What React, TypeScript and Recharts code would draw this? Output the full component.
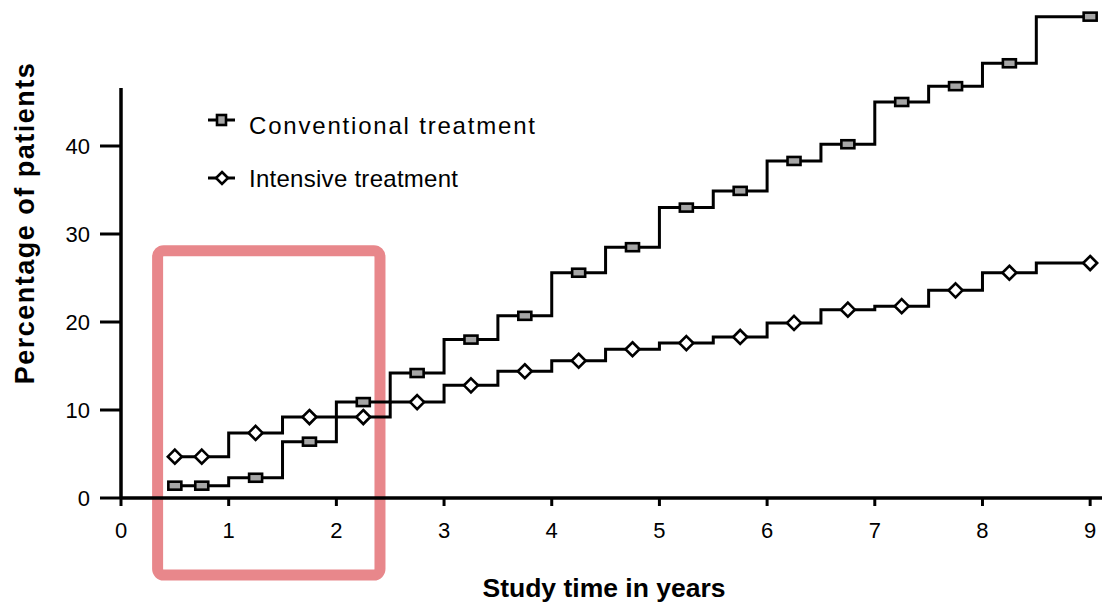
import React from "react";
import {
  ComposedChart,
  Line,
  XAxis,
  YAxis,
  ReferenceArea,
  ReferenceLine,
} from "recharts";

// start of each half-year step
const stepStarts = [0.5, 1, 1.5, 2, 2.5, 3, 3.5, 4, 4.5, 5, 5.5, 6, 6.5, 7, 7.5, 8, 8.5];
const conventional = [1.4, 2.3, 6.4, 10.9, 14.2, 18.0, 20.7, 25.6, 28.5, 33.0, 34.9, 38.3, 40.2, 45.0, 46.8, 49.4, 54.7];
const intensive = [4.7, 7.4, 9.2, 9.2, 10.9, 12.8, 14.4, 15.6, 16.9, 17.6, 18.3, 19.9, 21.4, 21.8, 23.6, 25.6, 26.7];
const markerX = [0.5, 0.75, 1.25, 1.75, 2.25, 2.75, 3.25, 3.75, 4.25, 4.75, 5.25, 5.75, 6.25, 6.75, 7.25, 7.75, 8.25, 9];
const xTicks = [0, 1, 2, 3, 4, 5, 6, 7, 8, 9];
const yTicks = [0, 10, 20, 30, 40];
const endX = 9;

const FONT = "'Liberation Sans', Arial, sans-serif";

const xs = Array.from(new Set([...stepStarts, ...markerX, endX])).sort((a, b) => a - b);
const rows = xs.map((x) => {
  let i = 0;
  for (let k = 0; k < stepStarts.length; k++) if (stepStarts[k] <= x) i = k;
  return { x, conv: conventional[i], int: intensive[i] };
});

function SquareDot(props: any) {
  const { cx, cy, payload, index } = props;
  if (!markerX.includes(payload.x)) return <g key={`s${index}`} />;
  return (
    <rect key={`s${index}`} x={cx - 6.5} y={cy - 4} width={13} height={8}
      fill="#a6a6a6" stroke="#000" strokeWidth={2.6} />
  );
}

function DiamondDot(props: any) {
  const { cx, cy, payload, index } = props;
  if (!markerX.includes(payload.x)) return <g key={`d${index}`} />;
  const r = 7;
  return (
    <polygon key={`d${index}`}
      points={`${cx},${cy - r} ${cx + r},${cy} ${cx},${cy + r} ${cx - r},${cy}`}
      fill="#fff" stroke="#000" strokeWidth={2.6} />
  );
}

function LegendBox() {
  return (
    <svg width={360} height={100} style={{ position: "absolute", left: 190, top: 100 }}>
      <line x1={18} y1={20} x2={45} y2={20} stroke="#000" strokeWidth={3} />
      <rect x={27} y={15} width={9} height={10} fill="#a6a6a6" stroke="#000" strokeWidth={2.6} />
      <text x={59} y={34} fontFamily={FONT} fontSize={24} textLength={286} lengthAdjust="spacing">
        Conventional treatment
      </text>
      <line x1={18} y1={78} x2={45} y2={78} stroke="#000" strokeWidth={3} />
      <polygon points="32,72 38,78 32,84 26,78" fill="#fff" stroke="#000" strokeWidth={2.6} />
      <text x={59} y={87} fontFamily={FONT} fontSize={24} textLength={209} lengthAdjust="spacing">
        Intensive treatment
      </text>
    </svg>
  );
}

export default function App() {
  return (
    <div style={{ position: "absolute", left: 0, top: 0, width: 1102, height: 603, background: "#fff" }}>
      <ComposedChart width={1102} height={603} data={rows}
        margin={{ top: 14, right: 0, bottom: 0, left: 0 }}>
        <XAxis type="number" dataKey="x" domain={[0, 9.11]} ticks={xTicks}
          height={105} tickSize={8} tickMargin={16}
          axisLine={{ stroke: "#000", strokeWidth: 3.5 }}
          tickLine={{ stroke: "#000", strokeWidth: 3 }}
          tick={{ fill: "#000", fontSize: 22, fontFamily: FONT }}
          label={{
            content: ({ viewBox }: any) => (
              <text x={viewBox.x + 483} y={viewBox.y + 99} textAnchor="middle"
                fontFamily={FONT} fontSize={26.5} fontWeight="bold" fill="#000">
                Study time in years
              </text>
            ),
          }}
        />
        <YAxis type="number" domain={[0, 55]} ticks={yTicks} width={121}
          tickSize={21} tickMargin={10} axisLine={false}
          tickLine={{ stroke: "#000", strokeWidth: 3 }}
          tick={{ fill: "#000", fontSize: 22, fontFamily: FONT }}
          label={{
            content: ({ viewBox }: any) => {
              const lx = 34;
              const ly = 223;
              return (
                <text x={lx} y={ly} textAnchor="middle" transform={`rotate(-90, ${lx}, ${ly})`}
                  fontFamily={FONT} fontSize={27} fontWeight="bold" letterSpacing={1.5} fill="#000">
                  Percentage of patients
                </text>
              );
            },
          }}
        />
        <ReferenceLine segment={[{ x: 0, y: 0 }, { x: 0, y: 46.6 }]} stroke="#000"
          strokeWidth={3.5} ifOverflow="visible" />
        <Line type="stepAfter" dataKey="conv" stroke="#000" strokeWidth={3}
          dot={SquareDot} activeDot={false} isAnimationActive={false} />
        <Line type="stepAfter" dataKey="int" stroke="#000" strokeWidth={3}
          dot={DiamondDot} activeDot={false} isAnimationActive={false} />
        <ReferenceArea x1={0.34} x2={2.405} y1={-8.75} y2={28.1} ifOverflow="visible"
          fill="none" stroke="#e8878b" strokeWidth={11} radius={6} />
      </ComposedChart>
      <LegendBox />
    </div>
  );
}
